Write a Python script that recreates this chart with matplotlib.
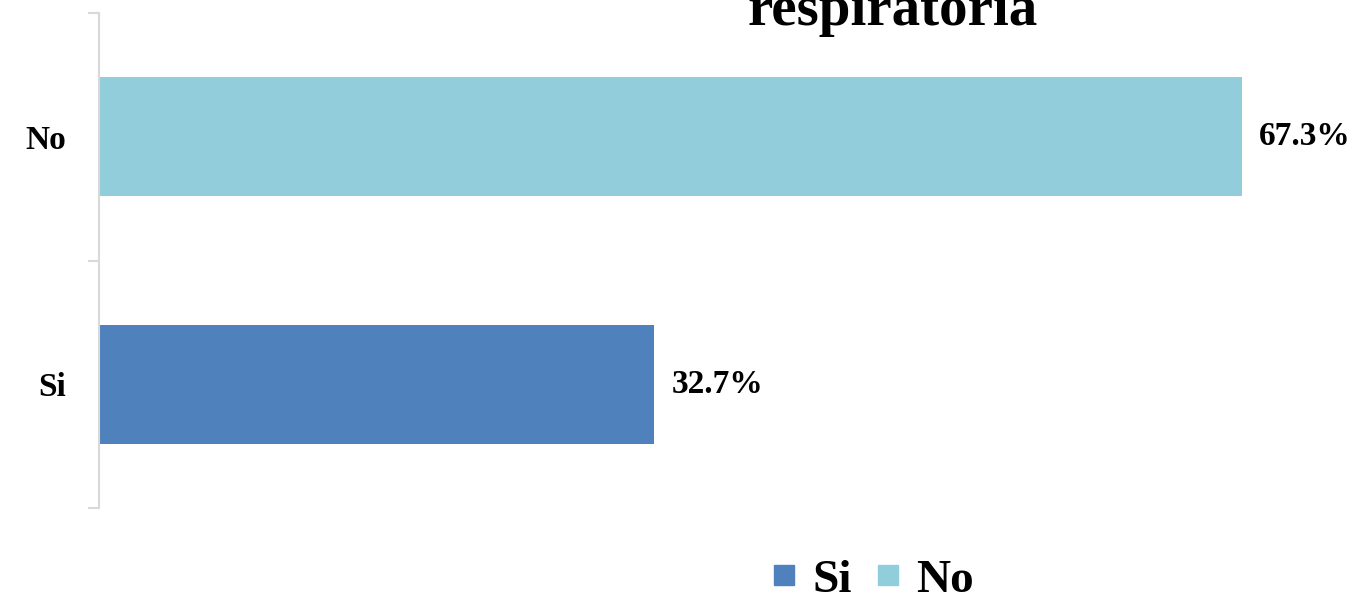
import matplotlib
matplotlib.use("Agg")
import matplotlib.pyplot as plt
from matplotlib.lines import Line2D

# datos
categorias = ["Si", "No"]
porcentajes = [32.7, 67.3]
colores = ["#4F81BD", "#92CDDC"]
titulo = "respiratoria"

plt.rcParams["font.family"] = ["Liberation Serif", "DejaVu Serif"]
plt.rcParams["font.weight"] = "bold"

W, H = 1359, 599
fig = plt.figure(figsize=(W / 100, H / 100), dpi=100)

# eje en coordenadas de pixel
x0, y_top, y_bot = 99, 13, 508
xmax = 70
px_per_unit = 16.98
ax = fig.add_axes([x0 / W, (H - y_bot) / H, xmax * px_per_unit / W, (y_bot - y_top) / H])

pos = list(range(len(categorias)))
ax.barh(pos, porcentajes, height=0.48, color=colores)

for p, v in zip(pos, porcentajes):
    ax.text(v + 1.0, p, f"{v:.1f}%", va="center", ha="left",
            fontsize=24, fontweight="bold")

ax.set_xlim(0, xmax)
ax.set_ylim(-0.5, 1.5)

# ticks estilo Excel: marcas en los limites, etiquetas en el centro
ax.set_yticks([-0.5, 0.5, 1.5])
ax.set_yticklabels([])
ax.set_yticks(pos, minor=True)
ax.set_yticklabels(categorias, minor=True, fontsize=24, fontweight="bold")
ax.tick_params(axis="y", which="major", length=8, color="#D9D9D9", width=1.5)
ax.tick_params(axis="y", which="minor", length=0, pad=24)
ax.set_xticks([])

for s in ["top", "right", "bottom"]:
    ax.spines[s].set_visible(False)
ax.spines["left"].set_color("#D9D9D9")
ax.spines["left"].set_linewidth(1.5)

# titulo (cortado arriba como en la imagen)
fig.text(893 / W, 1 - 25 / H, titulo, ha="center", va="baseline",
         fontsize=41, fontweight="bold")

handles = [Line2D([], [], marker="s", linestyle="none", markersize=14,
                  markerfacecolor=c, markeredgecolor=c) for c in colores]
fig.legend(handles, categorias, loc="center", bbox_to_anchor=(872 / W, 1 - 580 / H),
           ncol=2, frameon=False, prop={"size": 34, "weight": "bold"},
           handletextpad=0.3, columnspacing=0.45, handlelength=0.6)

fig.savefig("out.png", dpi=100)
